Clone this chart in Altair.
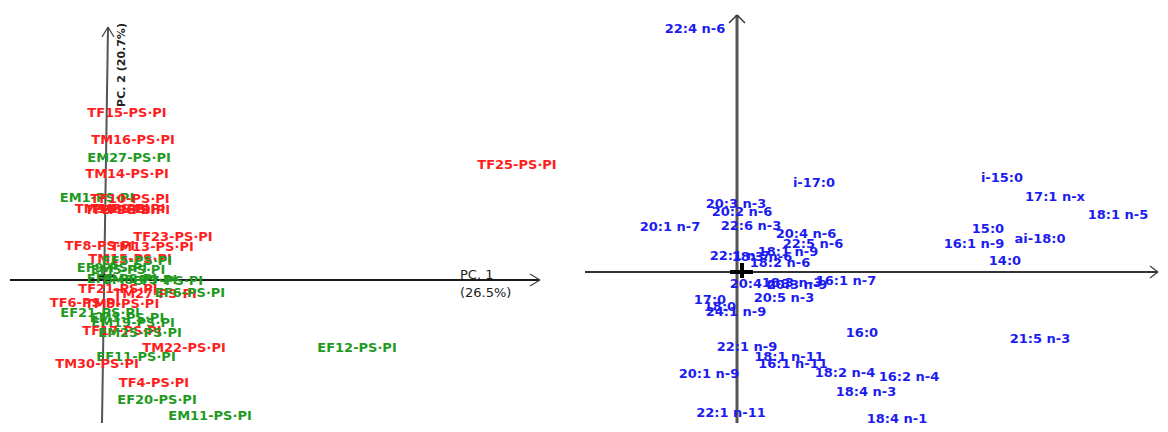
import altair as alt
import pandas as pd

# ---------------- Left panel: sample scores ----------------
sample_names = [
    "TF15-PS·PI", "TM16-PS·PI", "EM27-PS·PI", "TM14-PS·PI", "EM1-PS·PI",
    "TF10-PS·PI", "TM5-PS·PI", "TF3-PS·PI", "TM8-PS·PI", "TF9-PS·PI",
    "TF23-PS·PI", "TF8-PS·PI", "TM13-PS·PI", "TM15-PS·PI", "EF5-PS·PI",
    "EF9-PS·PI", "EM5-PS·PI", "EF3-PS·PI", "EM8-PS·PI", "EF7-PS·PI",
    "TF21-PS·PI", "TM27-PS·PI", "EF6-PS·PI", "TF6-PS·PI", "TM9-PS·PI",
    "EF21-PS·PI", "EM3-PS·PI", "EM19-PS·PI", "TF17-PS·PI", "EM25-PS·PI",
    "TM22-PS·PI", "EF11-PS·PI", "TM30-PS·PI", "TF4-PS·PI", "EF20-PS·PI",
    "EM11-PS·PI", "TF25-PS·PI", "EF12-PS·PI",
]
sample_pc1 = [
    0.44, 0.56, 0.48, 0.44, -0.16,
    0.50, 0.14, 0.30, 0.46, 0.60,
    1.36, -0.10, 0.94, 0.50, 0.64,
    0.14, 0.46, 0.34, 0.70, 1.26,
    0.26, 1.00, 1.70, -0.40, 0.34,
    -0.10, 0.44, 0.56, 0.34, 0.70,
    1.58, 0.62, -0.16, 0.98, 1.04,
    2.10, 8.24, 5.04,
]
sample_pc2 = [
    3.34, 2.80, 2.44, 2.12, 1.64,
    1.62, 1.42, 1.40, 1.42, 1.40,
    0.86, 0.68, 0.66, 0.42, 0.38,
    0.24, 0.20, 0.02, 0.00, -0.02,
    -0.18, -0.28, -0.26, -0.46, -0.48,
    -0.66, -0.76, -0.86, -1.02, -1.06,
    -1.36, -1.54, -1.68, -2.06, -2.40,
    -2.72, 2.30, -1.36,
]
sample_group = ["T" if n.startswith("T") else "E" for n in sample_names]

# ---------------- Right panel: fatty-acid loadings ----------------
fa_names = [
    "22:4 n-6", "i-17:0", "20:3 n-3", "20:2 n-6", "20:1 n-7", "22:6 n-3",
    "20:4 n-6", "22:5 n-6", "18:1 n-9", "22:1 n-7", "18:3 n-6", "18:2 n-6",
    "20:4 n-3", "18:3 n-3", "20:3 n-9", "16:1 n-7", "20:5 n-3", "17:0",
    "18:0", "24:1 n-9", "16:0", "22:1 n-9", "18:1 n-11", "16:1 n-11",
    "20:1 n-9", "18:2 n-4", "16:2 n-4", "18:4 n-3", "18:4 n-1", "22:1 n-11",
    "21:5 n-3", "i-15:0", "17:1 n-x", "18:1 n-5", "15:0", "16:1 n-9",
    "ai-18:0", "14:0",
]
fa_pc1 = [
    -0.45, 0.74, -0.04, 0.02, -0.70, 0.11,
    0.66, 0.73, 0.48, 0.00, 0.22, 0.40,
    0.20, 0.52, 0.57, 1.06, 0.44, -0.30,
    -0.20, -0.04, 1.22, 0.07, 0.49, 0.53,
    -0.31, 1.05, 1.69, 1.26, 1.57, -0.09,
    3.00, 2.62, 3.15, 3.78, 2.48, 2.34,
    3.00, 2.65,
]
fa_pc2 = [
    2.43, 0.89, 0.68, 0.60, 0.45, 0.46,
    0.38, 0.28, 0.20, 0.16, 0.15, 0.09,
    -0.12, -0.11, -0.13, -0.09, -0.26, -0.28,
    -0.35, -0.40, -0.61, -0.75, -0.85, -0.92,
    -1.02, -1.01, -1.05, -1.20, -1.47, -1.41,
    -0.67, 0.94, 0.75, 0.57, 0.43, 0.28,
    0.33, 0.11,
]

# Axis-arrow geometry in score / loading units
left_axes = {
    "x":  [-1.90, 8.70, 8.50, 0.06, 0.06, 0.06, -0.14],
    "y":  [0.00, 0.00, 0.12, 5.06, 5.06, 5.06, 0.08],
    "x2": [8.70, 8.50, 8.70, -0.06, -0.06, 0.18, 0.20],
    "y2": [0.00, -0.12, 0.00, -2.86, 4.86, 4.86, 0.08],
    "w":  [2.0, 1.3, 1.3, 2.0, 1.3, 1.3, 3.0],
    "c":  ["#1a1a1a", "#444444", "#444444", "#555555", "#444444", "#444444", "#000000"],
}
right_axes = {
    "x":  [-1.55, 4.18, 4.10, -0.03, -0.03, -0.03, -0.10, 0.02],
    "y":  [0.00, 0.00, 0.06, 2.57, 2.57, 2.57, 0.00, 0.09],
    "x2": [4.18, 4.10, 4.18, -0.03, -0.11, 0.05, 0.13, 0.02],
    "y2": [0.00, -0.06, 0.00, -1.51, 2.49, 2.49, 0.00, -0.06],
    "w":  [2.0, 1.3, 1.3, 3.0, 1.5, 1.5, 4.0, 4.0],
    "c":  ["#333333", "#444444", "#444444", "#555555", "#333333", "#333333", "#000000", "#000000"],
}

left_titles = {
    "x": [7.10, 7.10], "y": [0.10, -0.26], "t": ["PC. 1", "(26.5%)"],
}
left_vtitle = {"x": [0.34], "y": [4.30], "t": ["PC. 2 (20.7%)"]}

samples = pd.DataFrame({"name": sample_names, "pc1": sample_pc1,
                        "pc2": sample_pc2, "grp": sample_group})
loads = pd.DataFrame({"name": fa_names, "pc1": fa_pc1, "pc2": fa_pc2})

FONT = "DejaVu Sans"

# ---------- left panel ----------
lxs = alt.Scale(domain=[-1.94, 9.36], nice=False, zero=False)
lys = alt.Scale(domain=[-2.88, 5.44], nice=False, zero=False)

l_rules = alt.Chart(pd.DataFrame(left_axes)).mark_rule().encode(
    x=alt.X("x:Q", scale=lxs, axis=None), y=alt.Y("y:Q", scale=lys, axis=None),
    x2="x2:Q", y2="y2:Q",
    strokeWidth=alt.StrokeWidth("w:Q", scale=None),
    color=alt.Color("c:N", scale=None),
)
l_text = alt.Chart(samples).mark_text(
    font=FONT, fontSize=13, fontWeight="bold", align="center", baseline="middle"
).encode(
    x=alt.X("pc1:Q", scale=lxs, axis=None), y=alt.Y("pc2:Q", scale=lys, axis=None),
    text="name:N",
    color=alt.Color("grp:N", scale=alt.Scale(domain=["T", "E"], range=["#ff1e1e", "#1f9a1f"]),
                    legend=None),
)
l_title = alt.Chart(pd.DataFrame(left_titles)).mark_text(
    font=FONT, fontSize=13, align="left", baseline="middle", color="#222222"
).encode(x=alt.X("x:Q", scale=lxs, axis=None), y=alt.Y("y:Q", scale=lys, axis=None), text="t:N")
l_vtitle = alt.Chart(pd.DataFrame(left_vtitle)).mark_text(
    font=FONT, fontSize=11, fontWeight="bold", align="center", baseline="middle",
    angle=270, color="#222222"
).encode(x=alt.X("x:Q", scale=lxs, axis=None), y=alt.Y("y:Q", scale=lys, axis=None), text="t:N")

left = alt.layer(l_rules, l_text, l_title, l_vtitle).properties(width=565, height=416)

# ---------- right panel ----------
rxs = alt.Scale(domain=[-1.60, 4.20], nice=False, zero=False)
rys = alt.Scale(domain=[-1.52, 2.64], nice=False, zero=False)

r_rules = alt.Chart(pd.DataFrame(right_axes)).mark_rule().encode(
    x=alt.X("x:Q", scale=rxs, axis=None), y=alt.Y("y:Q", scale=rys, axis=None),
    x2="x2:Q", y2="y2:Q",
    strokeWidth=alt.StrokeWidth("w:Q", scale=None),
    color=alt.Color("c:N", scale=None),
)
r_text = alt.Chart(loads).mark_text(
    font=FONT, fontSize=13, fontWeight="bold", align="center", baseline="middle",
    color="#1c1cf0"
).encode(
    x=alt.X("pc1:Q", scale=rxs, axis=None), y=alt.Y("pc2:Q", scale=rys, axis=None),
    text="name:N",
)
right = alt.layer(r_rules, r_text).properties(width=580, height=416)

chart = alt.hconcat(left, right, spacing=7).properties(
    padding=0, background="white"
).configure_view(strokeWidth=0).resolve_scale(color="independent")

chart.save("out.html", embed_options={"renderer": "svg", "actions": False})
